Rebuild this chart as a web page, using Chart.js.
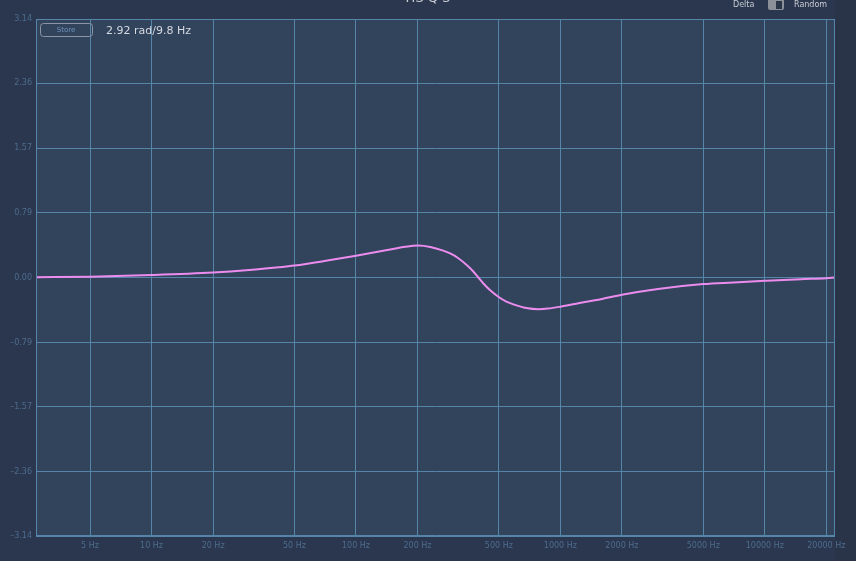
<!DOCTYPE html>
<html>
<head>
<meta charset="utf-8">
<script src="https://cdn.jsdelivr.net/npm/chart.js@4.4.1/dist/chart.umd.min.js"></script>
<style>
    html, body {
        margin: 0;
        padding: 0;
        background: #2b374e;
        overflow: hidden;
    }
    #wrap {
        position: relative;
        width: 856px;
        height: 561px;
    }
</style>
</head>
<body>
<div id="wrap">
    <canvas id="phaseChart" width="856" height="561"></canvas>
</div>
<script>
// frequency (Hz) and phase (rad)
const freqs = [2.7, 5, 10, 20, 30, 42, 50, 70, 100, 140, 175, 202, 231, 267, 289, 313, 348, 375, 397, 420, 452, 503, 544, 589, 681, 780, 870, 1000, 1240, 1600, 2000, 3000, 5000, 7000, 10000, 15000, 20000, 22050];
const phase = [0.004, 0.01, 0.03, 0.06, 0.09, 0.124, 0.145, 0.2, 0.265, 0.33, 0.375, 0.389, 0.371, 0.326, 0.292, 0.243, 0.152, 0.073, 0.0, -0.073, -0.152, -0.243, -0.292, -0.326, -0.371, -0.385, -0.378, -0.355, -0.31, -0.26, -0.21, -0.14, -0.08, -0.06, -0.04, -0.02, -0.01, 0.0];

const xTicks = [5, 10, 20, 50, 100, 200, 500, 1000, 2000, 5000, 10000, 20000];
const yTicks = [-3.14, -2.36, -1.57, -0.79, 0, 0.79, 1.57, 2.36, 3.14];

const titleText = 'HS Q 3';
const readoutText = '2.92 rad/9.8 Hz';

const gridColor = '#5585a8';
const labelColor = '#4d6c8e';

// фон области графика, рамка и надписи сверху
const areaPlugin = {
    id: 'area',
    beforeDraw(chart) {
        const { ctx, chartArea: a } = chart;
        ctx.save();
        ctx.fillStyle = '#2a3449';
        ctx.fillRect(a.right, 0, chart.width - a.right, chart.height);
        ctx.fillStyle = '#32435c';
        ctx.fillRect(a.left, a.top, a.right - a.left, a.bottom - a.top);
        ctx.restore();
    },
    afterDatasetsDraw(chart) {
        const { ctx, chartArea: a } = chart;
        ctx.save();
        ctx.strokeStyle = gridColor;
        ctx.lineWidth = 1;
        ctx.strokeRect(a.left + 0.5, a.top + 0.5, a.right - a.left - 1, a.bottom - a.top);
        ctx.restore();
    },
    afterDraw(chart) {
        const { ctx } = chart;
        ctx.save();
        // title, clipped by the top edge
        ctx.fillStyle = '#c9cdd5';
        ctx.font = '13px "DejaVu Sans"';
        ctx.textAlign = 'center';
        ctx.textBaseline = 'alphabetic';
        ctx.fillText(titleText, 428, 2);

        // Store button
        ctx.strokeStyle = '#8a96a8';
        ctx.lineWidth = 1;
        ctx.beginPath();
        ctx.roundRect(40.5, 23.5, 52, 13, 3);
        ctx.stroke();
        ctx.fillStyle = '#6f93b8';
        ctx.font = '7px "DejaVu Sans"';
        ctx.textBaseline = 'middle';
        ctx.fillText('Store', 66, 30.5);

        // readout
        ctx.fillStyle = '#d6dae2';
        ctx.font = '11px "DejaVu Sans"';
        ctx.textAlign = 'left';
        ctx.fillText(readoutText, 106, 31);

        // Delta / Random switch
        ctx.fillStyle = '#c8ccd4';
        ctx.font = '8px "DejaVu Sans"';
        ctx.fillText('Delta', 733, 5);
        ctx.fillText('Random', 794, 5);
        ctx.fillStyle = '#8b9099';
        ctx.beginPath();
        ctx.roundRect(768, -3, 16, 13, 2);
        ctx.fill();
        ctx.fillStyle = '#2b3548';
        ctx.fillRect(776, 1, 6, 8);
        ctx.restore();
    }
};

const points = freqs.map((f, i) => ({ x: f, y: phase[i] }));

new Chart(document.getElementById('phaseChart').getContext('2d'), {
    type: 'line',
    data: {
        datasets: [{
            data: points,
            borderColor: '#ec8ced',
            borderWidth: 2,
            pointRadius: 0,
            fill: false,
            cubicInterpolationMode: 'monotone'
        }]
    },
    options: {
        responsive: false,
        animation: false,
        layout: { padding: { top: 19, right: 21, left: 0, bottom: 0 } },
        plugins: {
            legend: { display: false },
            tooltip: { enabled: false }
        },
        scales: {
            x: {
                type: 'logarithmic',
                min: 2.72,
                max: 22050,
                afterBuildTicks: (axis) => { axis.ticks = xTicks.map(v => ({ value: v })); },
                afterFit: (axis) => { axis.height = 25; },
                border: { display: false },
                grid: { color: gridColor, drawTicks: false, lineWidth: 1 },
                ticks: {
                    color: labelColor,
                    font: { family: 'DejaVu Sans', size: 8 },
                    padding: 5,
                    maxRotation: 0,
                    autoSkip: false,
                    callback: (v) => v + ' Hz'
                }
            },
            y: {
                min: -3.14159,
                max: 3.14159,
                afterBuildTicks: (axis) => { axis.ticks = yTicks.map(v => ({ value: v })); },
                afterFit: (axis) => { axis.width = 36; },
                border: { display: false },
                grid: { color: gridColor, drawTicks: false, lineWidth: 1 },
                ticks: {
                    color: labelColor,
                    font: { family: 'DejaVu Sans', size: 8 },
                    padding: 4,
                    autoSkip: false,
                    callback: (v) => (v < 0 ? '–' + Math.abs(v).toFixed(2) : v.toFixed(2))
                }
            }
        }
    },
    plugins: [areaPlugin]
});
</script>
</body>
</html>
